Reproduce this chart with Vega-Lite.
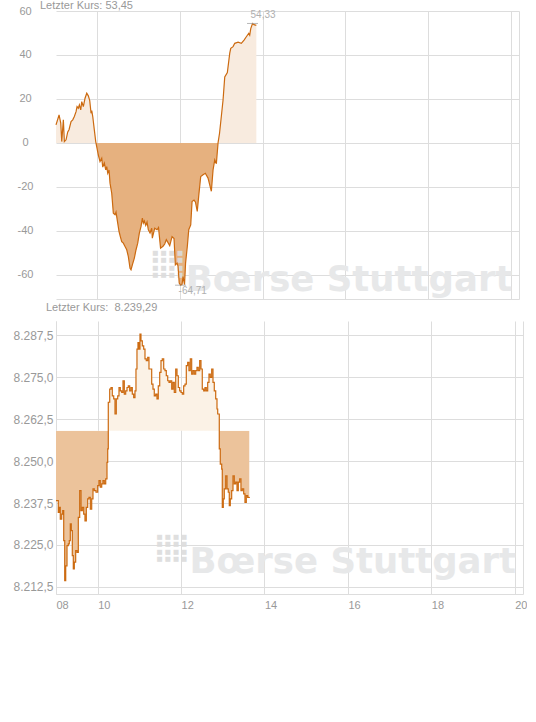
{
  "$schema": "https://vega.github.io/schema/vega-lite/v6.json",
  "description": "Intraday: spread index (top) and DAX (bottom), Boerse Stuttgart",
  "padding": {"left": 12, "top": 0, "right": 0, "bottom": 0},
  "spacing": 3,
  "datasets": {
    "spread": [
      {"t": 9.0, "v": 8.2}, {"t": 9.074, "v": 12.7}, {"t": 9.115, "v": 9}, {"t": 9.139, "v": 0.6},
      {"t": 9.178, "v": 10.5}, {"t": 9.202, "v": 0.6}, {"t": 9.243, "v": 1.4}, {"t": 9.284, "v": 5},
      {"t": 9.315, "v": 6}, {"t": 9.364, "v": 9.7}, {"t": 9.405, "v": 10.5}, {"t": 9.444, "v": 12},
      {"t": 9.485, "v": 14.2}, {"t": 9.509, "v": 16.5}, {"t": 9.54, "v": 15.8}, {"t": 9.565, "v": 17.3},
      {"t": 9.598, "v": 15}, {"t": 9.623, "v": 18.8}, {"t": 9.661, "v": 16.5}, {"t": 9.702, "v": 20.3},
      {"t": 9.744, "v": 22.6}, {"t": 9.782, "v": 21.4}, {"t": 9.816, "v": 19.2}, {"t": 9.848, "v": 13.5},
      {"t": 9.865, "v": 14.7}, {"t": 9.889, "v": 12}, {"t": 9.927, "v": 5.9}, {"t": 9.961, "v": 0.6},
      {"t": 9.985, "v": -1.7}, {"t": 10.024, "v": -5.5}, {"t": 10.065, "v": -8.5}, {"t": 10.106, "v": -7},
      {"t": 10.131, "v": -11}, {"t": 10.169, "v": -9.2}, {"t": 10.203, "v": -12.3}, {"t": 10.227, "v": -10.8},
      {"t": 10.252, "v": -13.8}, {"t": 10.283, "v": -12.3}, {"t": 10.307, "v": -18.3}, {"t": 10.348, "v": -22.9},
      {"t": 10.387, "v": -32}, {"t": 10.428, "v": -32.7}, {"t": 10.452, "v": -31.5}, {"t": 10.493, "v": -36.5},
      {"t": 10.525, "v": -40.3}, {"t": 10.556, "v": -42.6}, {"t": 10.59, "v": -44.9}, {"t": 10.629, "v": -45.6},
      {"t": 10.67, "v": -47.1}, {"t": 10.711, "v": -48.6}, {"t": 10.75, "v": -51.7}, {"t": 10.791, "v": -57},
      {"t": 10.815, "v": -57.7}, {"t": 10.847, "v": -55.5}, {"t": 10.895, "v": -52.4}, {"t": 10.936, "v": -48.6},
      {"t": 10.977, "v": -45.6}, {"t": 11.016, "v": -41}, {"t": 11.057, "v": -38}, {"t": 11.089, "v": -34.2},
      {"t": 11.113, "v": -36.5}, {"t": 11.137, "v": -35.5}, {"t": 11.171, "v": -37.5}, {"t": 11.202, "v": -36},
      {"t": 11.234, "v": -39.5}, {"t": 11.275, "v": -41}, {"t": 11.316, "v": -38.8}, {"t": 11.33, "v": -43.3},
      {"t": 11.388, "v": -38.8}, {"t": 11.444, "v": -39.5}, {"t": 11.48, "v": -38.5}, {"t": 11.529, "v": -47.9},
      {"t": 11.589, "v": -47}, {"t": 11.63, "v": -46}, {"t": 11.669, "v": -44}, {"t": 11.751, "v": -46.7},
      {"t": 11.807, "v": -42.6}, {"t": 11.855, "v": -43.5}, {"t": 11.887, "v": -55.5}, {"t": 11.928, "v": -54.7},
      {"t": 11.952, "v": -56}, {"t": 11.981, "v": -63.8}, {"t": 12.013, "v": -64.71}, {"t": 12.049, "v": -64.3},
      {"t": 12.073, "v": -60.8}, {"t": 12.109, "v": -64.5}, {"t": 12.134, "v": -54.7}, {"t": 12.177, "v": -47},
      {"t": 12.211, "v": -39.5}, {"t": 12.259, "v": -37.3}, {"t": 12.291, "v": -26.7}, {"t": 12.339, "v": -26},
      {"t": 12.375, "v": -27}, {"t": 12.417, "v": -31.2}, {"t": 12.453, "v": -24}, {"t": 12.501, "v": -15.3},
      {"t": 12.557, "v": -14.5}, {"t": 12.612, "v": -13.8}, {"t": 12.678, "v": -16}, {"t": 12.758, "v": -22},
      {"t": 12.799, "v": -12.3}, {"t": 12.84, "v": -7.7}, {"t": 12.879, "v": -9.5}, {"t": 12.92, "v": 0},
      {"t": 12.956, "v": 4.4}, {"t": 12.999, "v": 12}, {"t": 13.041, "v": 19.5}, {"t": 13.082, "v": 30},
      {"t": 13.145, "v": 32}, {"t": 13.203, "v": 40.8}, {"t": 13.227, "v": 43}, {"t": 13.283, "v": 43.8},
      {"t": 13.324, "v": 45.3}, {"t": 13.404, "v": 45.8}, {"t": 13.483, "v": 45.3}, {"t": 13.549, "v": 46.8},
      {"t": 13.604, "v": 48.3}, {"t": 13.662, "v": 49.8}, {"t": 13.686, "v": 49}, {"t": 13.711, "v": 52},
      {"t": 13.754, "v": 54.33}, {"t": 13.79, "v": 53.8}, {"t": 13.846, "v": 53.45}
    ],
    "spread_ext": [
      {"t": 13.754, "v": 54.33},
      {"t": 12.013, "v": -64.71}
    ],
    "dax": [
      {"t": 9.0, "v": 8238.2}, {"t": 9.055, "v": 8234.7}, {"t": 9.079, "v": 8236.2}, {"t": 9.103, "v": 8232.7},
      {"t": 9.137, "v": 8234.2}, {"t": 9.161, "v": 8235.2}, {"t": 9.185, "v": 8226.3}, {"t": 9.209, "v": 8214.4},
      {"t": 9.233, "v": 8218.8}, {"t": 9.264, "v": 8224.8}, {"t": 9.295, "v": 8225.3}, {"t": 9.319, "v": 8226.3},
      {"t": 9.343, "v": 8231.3}, {"t": 9.367, "v": 8229.3}, {"t": 9.391, "v": 8221.8}, {"t": 9.415, "v": 8217.9},
      {"t": 9.439, "v": 8219.9}, {"t": 9.472, "v": 8223.3}, {"t": 9.504, "v": 8222.8}, {"t": 9.535, "v": 8233.2},
      {"t": 9.568, "v": 8241.2}, {"t": 9.6, "v": 8235.2}, {"t": 9.631, "v": 8236.2}, {"t": 9.664, "v": 8234.2},
      {"t": 9.695, "v": 8232.2}, {"t": 9.727, "v": 8236.2}, {"t": 9.76, "v": 8238.7}, {"t": 9.791, "v": 8239.2},
      {"t": 9.823, "v": 8235.7}, {"t": 9.856, "v": 8238.7}, {"t": 9.887, "v": 8241.7}, {"t": 9.918, "v": 8241.2},
      {"t": 9.959, "v": 8240.7}, {"t": 10.0, "v": 8242.7}, {"t": 10.031, "v": 8244.2}, {"t": 10.062, "v": 8242.2},
      {"t": 10.096, "v": 8243.2}, {"t": 10.127, "v": 8244.2}, {"t": 10.158, "v": 8243.2}, {"t": 10.192, "v": 8244.7},
      {"t": 10.223, "v": 8249.6}, {"t": 10.24, "v": 8253.6}, {"t": 10.254, "v": 8267.5}, {"t": 10.288, "v": 8271.4},
      {"t": 10.319, "v": 8271.9}, {"t": 10.35, "v": 8269.4}, {"t": 10.384, "v": 8268.5}, {"t": 10.415, "v": 8264.0},
      {"t": 10.446, "v": 8268.5}, {"t": 10.48, "v": 8269.4}, {"t": 10.511, "v": 8271.9}, {"t": 10.542, "v": 8270.9},
      {"t": 10.576, "v": 8270.4}, {"t": 10.607, "v": 8273.9}, {"t": 10.638, "v": 8269.9}, {"t": 10.671, "v": 8270.9},
      {"t": 10.703, "v": 8271.9}, {"t": 10.734, "v": 8272.4}, {"t": 10.767, "v": 8270.9}, {"t": 10.799, "v": 8271.9},
      {"t": 10.83, "v": 8269.9}, {"t": 10.863, "v": 8268.9}, {"t": 10.894, "v": 8270.9}, {"t": 10.918, "v": 8277.4},
      {"t": 10.942, "v": 8283.3}, {"t": 10.966, "v": 8285.3}, {"t": 10.99, "v": 8283.3}, {"t": 11.014, "v": 8287.8},
      {"t": 11.038, "v": 8285.8}, {"t": 11.07, "v": 8284.3}, {"t": 11.103, "v": 8283.3}, {"t": 11.134, "v": 8280.4},
      {"t": 11.165, "v": 8279.9}, {"t": 11.199, "v": 8280.9}, {"t": 11.23, "v": 8277.4}, {"t": 11.261, "v": 8277.4},
      {"t": 11.295, "v": 8272.9}, {"t": 11.326, "v": 8271.4}, {"t": 11.357, "v": 8269.4}, {"t": 11.391, "v": 8269.9},
      {"t": 11.422, "v": 8268.5}, {"t": 11.453, "v": 8272.4}, {"t": 11.487, "v": 8276.4}, {"t": 11.518, "v": 8279.9},
      {"t": 11.549, "v": 8280.4}, {"t": 11.583, "v": 8277.4}, {"t": 11.614, "v": 8276.9}, {"t": 11.645, "v": 8275.4},
      {"t": 11.679, "v": 8273.9}, {"t": 11.71, "v": 8273.4}, {"t": 11.741, "v": 8273.9}, {"t": 11.775, "v": 8271.4},
      {"t": 11.806, "v": 8273.4}, {"t": 11.837, "v": 8270.4}, {"t": 11.871, "v": 8277.4}, {"t": 11.902, "v": 8275.4},
      {"t": 11.933, "v": 8271.9}, {"t": 11.966, "v": 8270.9}, {"t": 11.998, "v": 8270.4}, {"t": 12.029, "v": 8269.9},
      {"t": 12.062, "v": 8272.4}, {"t": 12.094, "v": 8272.9}, {"t": 12.125, "v": 8278.4}, {"t": 12.158, "v": 8279.4},
      {"t": 12.189, "v": 8276.9}, {"t": 12.221, "v": 8280.4}, {"t": 12.254, "v": 8275.9}, {"t": 12.285, "v": 8276.9},
      {"t": 12.317, "v": 8275.9}, {"t": 12.35, "v": 8276.9}, {"t": 12.381, "v": 8277.9}, {"t": 12.412, "v": 8276.9},
      {"t": 12.446, "v": 8279.9}, {"t": 12.477, "v": 8277.4}, {"t": 12.508, "v": 8271.4}, {"t": 12.542, "v": 8270.9},
      {"t": 12.573, "v": 8271.9}, {"t": 12.604, "v": 8270.9}, {"t": 12.638, "v": 8273.4}, {"t": 12.669, "v": 8275.9},
      {"t": 12.7, "v": 8274.9}, {"t": 12.734, "v": 8277.4}, {"t": 12.765, "v": 8273.4}, {"t": 12.796, "v": 8270.9},
      {"t": 12.83, "v": 8268.5}, {"t": 12.861, "v": 8265.5}, {"t": 12.878, "v": 8264.0}, {"t": 12.916, "v": 8253.6},
      {"t": 12.94, "v": 8249.1}, {"t": 12.974, "v": 8247.6}, {"t": 12.988, "v": 8236.2}, {"t": 13.012, "v": 8238.7},
      {"t": 13.036, "v": 8241.7}, {"t": 13.07, "v": 8245.6}, {"t": 13.101, "v": 8241.7}, {"t": 13.132, "v": 8240.7},
      {"t": 13.156, "v": 8236.7}, {"t": 13.18, "v": 8238.7}, {"t": 13.213, "v": 8241.2}, {"t": 13.245, "v": 8245.6},
      {"t": 13.276, "v": 8243.2}, {"t": 13.309, "v": 8243.7}, {"t": 13.341, "v": 8241.2}, {"t": 13.372, "v": 8243.7},
      {"t": 13.405, "v": 8244.7}, {"t": 13.436, "v": 8241.2}, {"t": 13.468, "v": 8241.7}, {"t": 13.501, "v": 8240.2},
      {"t": 13.532, "v": 8237.7}, {"t": 13.564, "v": 8239.7}, {"t": 13.597, "v": 8239.2}, {"t": 13.635, "v": 8239.29}
    ]
  },
  "vconcat": [
    {
      "title": {"text": "Letzter Kurs: 53,45", "dx": -16, "dy": 6, "offset": 0},
      "width": 463,
      "height": 288,
      "layer": [
        {
          "data": {"name": "spread"},
          "mark": {
            "type": "area",
            "color": {
              "gradient": "linear", "x1": 0, "y1": 0, "x2": 0, "y2": 1,
              "stops": [
                {"offset": 0, "color": "#f8ebdf"},
                {"offset": 0.4564, "color": "#f8ebdf"},
                {"offset": 0.4564, "color": "#e6b17f"},
                {"offset": 1, "color": "#e6b17f"}
              ]
            }
          },
          "encoding": {
            "x": {
              "field": "t", "type": "quantitative",
              "scale": {"domain": [9, 20.2], "nice": false, "zero": false},
              "axis": {"title": null, "values": [10, 12, 14, 16, 18, 20, 20.2], "labels": false, "domain": true}
            },
            "y": {
              "field": "v", "type": "quantitative",
              "scale": {"domain": [-71, 60], "nice": false, "zero": false},
              "axis": {"title": null, "values": [-60, -40, -20, 0, 20, 40, 60], "format": "d", "labelAlign": "center", "labelPadding": 31, "domain": false}
            },
            "y2": {"datum": 0}
          }
        },
        {
          "data": {"values": [{}]},
          "mark": {"type": "text", "text": "Bœrse Stuttgart", "align": "left", "baseline": "alphabetic", "font": "DejaVu Sans", "fontSize": 35.5, "fontWeight": "bold", "color": "#e7e8e9"},
          "encoding": {"x": {"datum": 12.14}, "y": {"datum": -67.5}}
        },
        {
          "data": {"values": [{}]},
          "mark": {"type": "text", "text": ["■ ■ ■ ■", "■ ■ ■ ■", "■ ■ ■ ■", "■ ■ ■ ■"], "lineHeight": 7.5, "align": "left", "baseline": "top", "font": "DejaVu Sans", "fontSize": 6.5, "color": "#dcdcdc", "opacity": 0.9},
          "encoding": {"x": {"datum": 11.33}, "y": {"datum": -48.6}}
        },
        {
          "data": {"name": "spread"},
          "mark": {"type": "line", "color": "#cc6a10", "strokeWidth": 1.2},
          "encoding": {
            "x": {"field": "t", "type": "quantitative"},
            "y": {"field": "v", "type": "quantitative"}
          }
        },
        {
          "mark": {"type": "rule", "color": "#000000", "strokeWidth": 1.2},
          "encoding": {"y": {"datum": 0}}
        },
        {
          "data": {"name": "spread_ext"},
          "mark": {"type": "tick", "orient": "horizontal", "size": 11, "thickness": 1, "color": "#999999"},
          "encoding": {
            "x": {"field": "t", "type": "quantitative"},
            "y": {"field": "v", "type": "quantitative"}
          }
        },
        {
          "data": {"name": "spread_ext"},
          "transform": [{"filter": "datum.v > 0"}],
          "mark": {"type": "text", "align": "left", "baseline": "bottom", "dx": -2, "dy": -3, "fontSize": 10, "color": "#b0b0b0"},
          "encoding": {
            "x": {"field": "t", "type": "quantitative"},
            "y": {"field": "v", "type": "quantitative"},
            "text": {"field": "v", "type": "quantitative", "format": ".2f"}
          }
        },
        {
          "data": {"name": "spread_ext"},
          "transform": [{"filter": "datum.v < 0"}],
          "mark": {"type": "text", "align": "left", "baseline": "top", "dx": -2, "dy": 1, "fontSize": 10, "color": "#b0b0b0"},
          "encoding": {
            "x": {"field": "t", "type": "quantitative"},
            "y": {"field": "v", "type": "quantitative"},
            "text": {"field": "v", "type": "quantitative", "format": ".2f"}
          }
        }
      ]
    },
    {
      "title": {"text": "Letzter Kurs:\u00a0 8.239,29", "dx": -10, "offset": 8},
      "width": 467,
      "height": 273,
      "layer": [
        {
          "data": {"name": "dax"},
          "mark": {
            "type": "area",
            "interpolate": "step-after",
            "color": {
              "gradient": "linear", "x1": 0, "y1": 0, "x2": 0, "y2": 1,
              "stops": [
                {"offset": 0, "color": "#fbf2e6"},
                {"offset": 0.3917, "color": "#fbf2e6"},
                {"offset": 0.3917, "color": "#ecc39b"},
                {"offset": 1, "color": "#ecc39b"}
              ]
            }
          },
          "encoding": {
            "x": {
              "field": "t", "type": "quantitative",
              "scale": {"domain": [9, 20.2], "nice": false, "zero": false},
              "axis": {
                "title": null, "values": [9, 10, 12, 14, 16, 18, 20, 20.2], "domain": true,
                "labelAlign": "left", "labelPadding": 5, "labelDx": 1,
                "labelExpr": "datum.value == 9 ? '08' : (datum.value > 20.1 ? '' : format(datum.value, '02d'))"
              }
            },
            "y": {
              "field": "v", "type": "quantitative",
              "scale": {"domain": [8210.4, 8291.7], "nice": false, "zero": false},
              "axis": {"title": null, "values": [8212.5, 8225, 8237.5, 8250, 8262.5, 8275, 8287.5], "format": ",.1f", "labelFontSize": 12, "labelPadding": 3, "domain": true}
            },
            "y2": {"datum": 8259.05}
          }
        },
        {
          "data": {"values": [{}]},
          "mark": {"type": "text", "text": "Bœrse Stuttgart", "align": "left", "baseline": "alphabetic", "font": "DejaVu Sans", "fontSize": 35.5, "fontWeight": "bold", "color": "#e7e8e9"},
          "encoding": {"x": {"datum": 12.2}, "y": {"datum": 8216.7}}
        },
        {
          "data": {"values": [{}]},
          "mark": {"type": "text", "text": ["■ ■ ■ ■", "■ ■ ■ ■", "■ ■ ■ ■", "■ ■ ■ ■"], "lineHeight": 7.5, "align": "left", "baseline": "top", "font": "DejaVu Sans", "fontSize": 6.5, "color": "#dcdcdc", "opacity": 0.9},
          "encoding": {"x": {"datum": 11.41}, "y": {"datum": 8228.3}}
        },
        {
          "data": {"name": "dax"},
          "mark": {"type": "line", "interpolate": "step-after", "color": "#cc6a10", "strokeWidth": 1.2},
          "encoding": {
            "x": {"field": "t", "type": "quantitative"},
            "y": {"field": "v", "type": "quantitative"}
          }
        },
        {
          "mark": {"type": "rule", "color": "#404040", "strokeWidth": 1},
          "encoding": {"y": {"datum": 8259.05}}
        }
      ]
    }
  ],
  "config": {
    "font": "Liberation Sans",
    "view": {"stroke": null},
    "locale": {
      "number": {"decimal": ",", "thousands": ".", "grouping": [3], "currency": ["", " €"], "minus": "-"}
    },
    "axis": {
      "gridColor": "#dddddd",
      "domainColor": "#dddddd",
      "labelColor": "#999999",
      "labelFont": "Liberation Sans",
      "labelFontSize": 11,
      "ticks": false
    },
    "title": {
      "anchor": "start",
      "frame": "group",
      "font": "Liberation Sans",
      "fontSize": 11,
      "fontWeight": "normal",
      "color": "#999999"
    }
  }
}
